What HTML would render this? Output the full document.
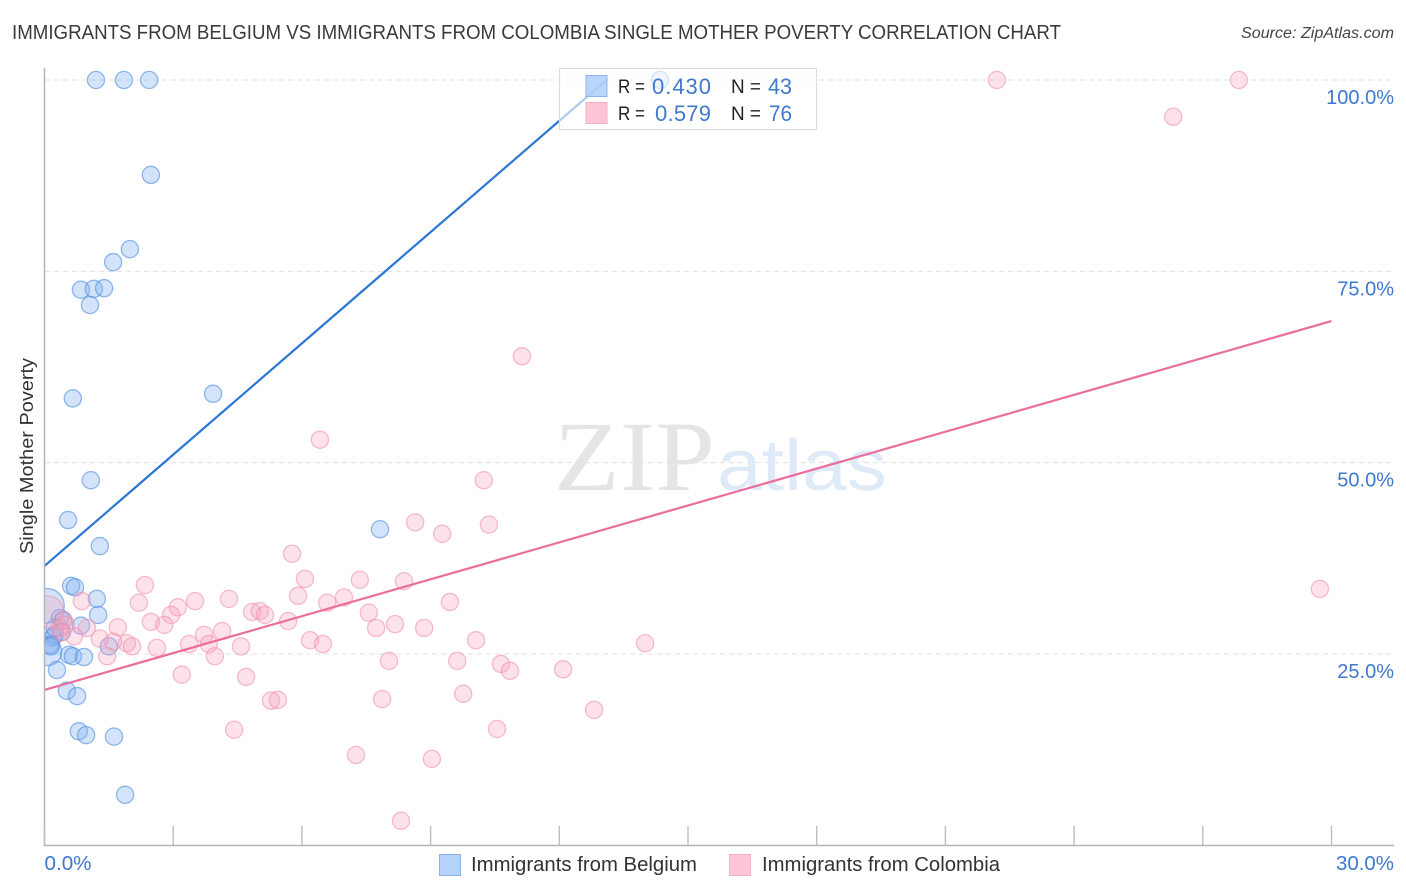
<!DOCTYPE html>
<html lang="en">
<head>
<meta charset="utf-8">
<title>Immigrants from Belgium vs Immigrants from Colombia Single Mother Poverty Correlation Chart</title>
<style>
html,body{margin:0;padding:0;background:#fff;width:1406px;height:892px;overflow:hidden}
svg{display:block;font-family:"Liberation Sans",sans-serif}
</style>
</head>
<body>
<svg id="chart" xmlns="http://www.w3.org/2000/svg" width="1406" height="892" viewBox="0 0 1406 892">
  <defs>
    <clipPath id="plot-clip"><rect x="45" y="60" width="1349" height="785"/></clipPath>
  </defs>
  <text x="12" y="39" font-size="20" fill="#3a3a3a" textLength="1049" lengthAdjust="spacingAndGlyphs">IMMIGRANTS FROM BELGIUM VS IMMIGRANTS FROM COLOMBIA SINGLE MOTHER POVERTY CORRELATION CHART</text>
  <text x="1394" y="38" font-size="15.5" font-style="italic" fill="#444" text-anchor="end" textLength="153" lengthAdjust="spacingAndGlyphs">Source: ZipAtlas.com</text>
  <text transform="translate(33,456) rotate(-90)" font-size="18.5" fill="#333" text-anchor="middle" textLength="196" lengthAdjust="spacingAndGlyphs">Single Mother Poverty</text>
  <g id="grid"></g>
  <g>
    <text x="554" y="490" font-family="'Liberation Serif',serif" font-size="100" fill="#e5e5e5" textLength="161" lengthAdjust="spacingAndGlyphs">ZIP</text>
    <text x="717" y="490" font-size="72" fill="#dfeaf8" textLength="170" lengthAdjust="spacingAndGlyphs">atlas</text>
  </g>
  <g id="points" clip-path="url(#plot-clip)"></g>
  <g id="trends"></g>
  <g id="axes"></g>
  <g>
    <rect x="559.5" y="68.5" width="257" height="61" fill="#fff" fill-opacity="0.62" stroke="#dcdcdc" stroke-width="1.2"/>
    <rect x="586" y="75.5" width="21" height="21" fill="#a9ccf9" fill-opacity="0.8" stroke="#8ab4ec" stroke-width="1"/>
    <rect x="586" y="102.5" width="21" height="21" fill="#fdc5d6" stroke="#f6aec6" stroke-width="1"/>
    <text x="618" y="93" font-size="19" fill="#222" textLength="27" lengthAdjust="spacingAndGlyphs">R =</text>
    <text x="652" y="94" font-size="22" fill="#3f78cf" textLength="59" lengthAdjust="spacing">0.430</text>
    <text x="731" y="93" font-size="19" fill="#222" textLength="30" lengthAdjust="spacingAndGlyphs">N =</text>
    <text x="768" y="94" font-size="22" fill="#3f78cf" textLength="24" lengthAdjust="spacingAndGlyphs">43</text>
    <text x="618" y="120" font-size="19" fill="#222" textLength="27" lengthAdjust="spacingAndGlyphs">R =</text>
    <text x="655" y="121" font-size="22" fill="#3f78cf" textLength="56" lengthAdjust="spacing">0.579</text>
    <text x="731" y="120" font-size="19" fill="#222" textLength="30" lengthAdjust="spacingAndGlyphs">N =</text>
    <text x="769" y="121" font-size="22" fill="#3f78cf" textLength="23" lengthAdjust="spacingAndGlyphs">76</text>
  </g>
  <g>
    <rect x="439.5" y="854.5" width="21" height="21" fill="#b5d3fa" stroke="#8ab4ec" stroke-width="1"/>
    <text x="471" y="871" font-size="20" fill="#333" textLength="226" lengthAdjust="spacingAndGlyphs">Immigrants from Belgium</text>
    <rect x="729.5" y="854.5" width="21" height="21" fill="#fdc5d6" stroke="#f6aec6" stroke-width="1"/>
    <text x="762" y="871" font-size="20" fill="#333" textLength="238" lengthAdjust="spacingAndGlyphs">Immigrants from Colombia</text>
  </g>
</svg>
<script>
const belgiumX = [0.06,0.08,1.20,1.85,2.44,2.48,1.99,1.60,0.85,1.15,1.39,1.06,0.66,3.93,1.08,0.55,1.29,7.82,0.62,0.71,1.22,1.25,0.36,0.43,0.85,0.24,0.20,0.13,0.15,0.57,0.66,0.92,0.29,0.52,0.76,0.80,0.97,1.62,1.88,1.50,14.35,0.41,0.24];
const belgiumY = [31.3,25.3,100,100,100,87.6,77.9,76.2,72.6,72.7,72.8,70.6,58.4,59.0,47.7,42.5,39.1,41.3,33.9,33.7,32.2,30.1,29.7,29.4,28.7,27.5,27.2,26.2,26.0,24.9,24.7,24.6,22.9,20.2,19.5,14.9,14.4,14.2,6.6,26.0,100,27.9,28.4];
const belgiumWeight = [4,2.6];
const colombiaX = [0.08,22.20,27.84,26.31,11.13,6.42,10.24,10.36,8.64,9.27,5.77,6.07,7.35,8.38,2.34,29.73,0.87,2.20,3.51,4.30,3.11,5.91,6.98,6.59,4.84,5.02,5.14,7.56,9.45,2.95,2.48,2.79,1.71,5.68,8.17,7.73,8.85,4.14,3.72,10.06,14.00,6.19,6.49,3.37,3.83,4.58,2.62,1.92,1.60,1.29,0.99,0.69,2.04,3.97,1.46,8.03,9.62,10.64,10.85,12.09,3.20,4.70,9.76,7.87,5.28,5.44,12.81,4.42,10.55,7.26,9.03,8.31,0.36,0.45,0.50,0.38];
const colombiaY = [30.5,100,100,95.2,63.9,53.0,47.7,41.9,42.2,40.7,38.1,34.8,34.7,34.5,34.0,33.5,31.9,31.7,31.9,32.2,31.1,32.6,32.4,31.7,30.5,30.6,30.1,30.4,31.8,30.1,29.2,28.8,28.5,29.3,28.9,28.4,28.4,28.0,27.5,26.8,26.4,26.8,26.3,26.3,26.3,26.0,25.8,26.4,26.6,27.0,28.4,27.3,26.0,24.7,24.7,24.1,24.1,23.7,22.8,23.0,22.3,22.0,19.8,19.1,18.9,19.0,17.7,15.1,15.2,11.8,11.3,3.2,28.4,29.4,28.8,27.8];
const colombiaWeight = [3.4];
const belgiumTrendX = [0,13.1];
const belgiumTrendY = [36.5,100];
const colombiaTrendX = [0,30];
const colombiaTrendY = [20.3,68.5];
const yTickValues = [25,50,75,100];
const yTickLabels = ["25.0%","50.0%","75.0%","100.0%"];
const xTickValues = [0,3,6,9,12,15,18,21,24,27,30];
const xEndValues = [0,30];
const xEndLabels = ["0.0%","30.0%"];

const NS = "http://www.w3.org/2000/svg";
function xScale(v){ return 44.5 + v * 42.9; }
function yScale(v){ return 845.3 - v * 7.653; }
function mk(tag, parent, attrs){
  const el = document.createElementNS(NS, tag);
  for (const k in attrs) el.setAttribute(k, attrs[k]);
  document.getElementById(parent).appendChild(el);
  return el;
}

yTickValues.forEach(function(v, i){
  const line = mk("line", "grid", {x1:45, x2:1394, y1:yScale(v), y2:yScale(v), stroke:"#e0e0e0", "stroke-width":1, "stroke-dasharray":"5 4"});
  
  
  const label = mk("text", "axes", {x:1394, y:yScale(v)+24, "font-size":20, fill:"#3f78cf", "text-anchor":"end"});
  label.textContent = yTickLabels[i];
  
  
});

belgiumX.forEach(function(v, i){
  const c = mk("circle", "points", {cx:xScale(v), cy:yScale(belgiumY[i]), r:8.6*Math.sqrt(belgiumWeight[i]||1), fill:"#7fb0f0", "fill-opacity":0.34, stroke:"#4f8be0", "stroke-opacity":0.6, "stroke-width":1.3});
  
  
});
colombiaX.forEach(function(v, i){
  const c = mk("circle", "points", {cx:xScale(v), cy:yScale(colombiaY[i]), r:8.6*Math.sqrt(colombiaWeight[i]||1), fill:"#f9a6bf", "fill-opacity":0.32, stroke:"#ee8aab", "stroke-opacity":0.55, "stroke-width":1.3});
  
  
});

const trendBlue = mk("line", "trends", {x1:xScale(belgiumTrendX[0]), y1:yScale(belgiumTrendY[0]), x2:xScale(belgiumTrendX[1]), y2:yScale(belgiumTrendY[1]), stroke:"#2a76d6", "stroke-width":2.2});


const trendPink = mk("line", "trends", {x1:xScale(colombiaTrendX[0]), y1:yScale(colombiaTrendY[0]), x2:xScale(colombiaTrendX[1]), y2:yScale(colombiaTrendY[1]), stroke:"#e96d9d", "stroke-width":2.2});



const yAxis = mk("line", "axes", {x1:44.5, x2:44.5, y1:68, y2:846, stroke:"#b4b4b4", "stroke-width":1.5});


const xAxis = mk("line", "axes", {x1:44, x2:1394, y1:845.5, y2:845.5, stroke:"#b4b4b4", "stroke-width":1.5});


xTickValues.forEach(function(v){
  const t = mk("line", "axes", {x1:xScale(v), x2:xScale(v), y1:826, y2:845.5, stroke:"#bdbdbd", "stroke-width":1.4});
  
  
});
xEndValues.forEach(function(v, i){
  const t = mk("text", "axes", {x:i === 0 ? xScale(v) : 1394, y:870, "font-size":20, fill:"#3f78cf", "text-anchor":i === 0 ? "start" : "end", textLength:i === 0 ? 47 : 58, lengthAdjust:"spacingAndGlyphs"});
  t.textContent = xEndLabels[i];
  
  
});
</script>
</body>
</html>
